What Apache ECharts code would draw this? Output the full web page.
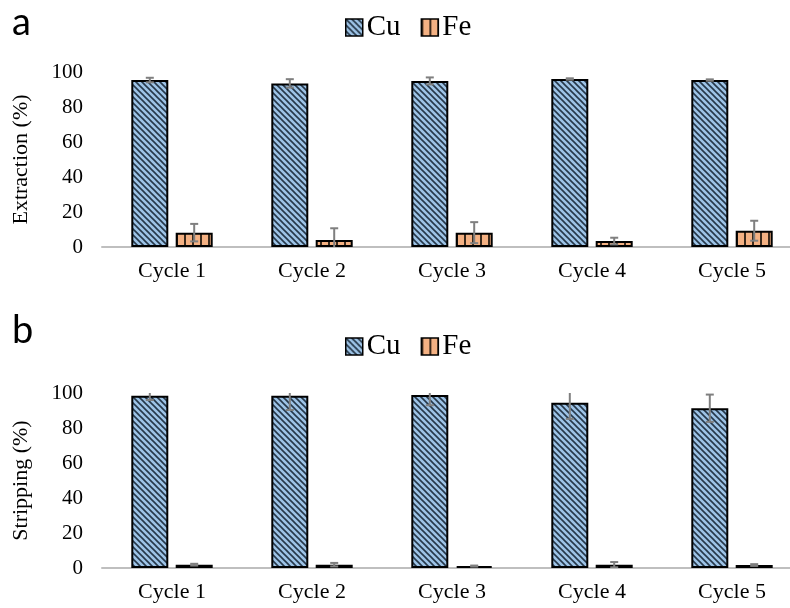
<!DOCTYPE html>
<html>
<head>
<meta charset="utf-8">
<script src="https://cdn.jsdelivr.net/npm/echarts@6/dist/echarts.min.js"></script>
<style>
  html, body { margin: 0; padding: 0; background: #fff; overflow: hidden; }
  #chart { width: 804px; height: 608px; }
</style>
</head>
<body>
<div id="chart"></div>
<script>
// Categories and tick labels
const cycles = ['Cycle 1', 'Cycle 2', 'Cycle 3', 'Cycle 4', 'Cycle 5'];
const yTicks = [0, 20, 40, 60, 80, 100];

// Panel a: extraction (%)
const extractionCu = [95.4, 93.5, 94.9, 96.0, 95.4];
const extractionCuErr = [1.3, 2.4, 2.0, 0.4, 0.4];
const extractionFe = [8.2, 4.0, 8.2, 3.4, 9.3];
const extractionFeErr = [5.0, 6.7, 6.0, 1.9, 5.7];

// Panel b: stripping (%)
const strippingCu = [98.5, 98.5, 98.9, 94.5, 91.3];
const strippingCuErr = [2.5, 8.2, 5.9, 9.3, 7.8];
const strippingFe = [1.9, 1.9, 1.1, 1.9, 1.7];
const strippingFeErr = [0.5, 1.0, 0.3, 1.5, 0.5];

// Hatch fills
function diagonalHatch() {
  const c = document.createElement('canvas');
  c.width = 6; c.height = 6;
  const g = c.getContext('2d');
  g.fillStyle = '#9dc3e6';
  g.fillRect(0, 0, 6, 6);
  g.strokeStyle = '#26384a';
  g.lineWidth = 1.6;
  g.beginPath();
  g.moveTo(-1, -1); g.lineTo(7, 7);
  g.moveTo(-1, 5); g.lineTo(1, 7);
  g.moveTo(5, -1); g.lineTo(7, 1);
  g.stroke();
  return c;
}
function verticalHatch() {
  const c = document.createElement('canvas');
  c.width = 8; c.height = 8;
  const g = c.getContext('2d');
  g.fillStyle = '#f4b183';
  g.fillRect(0, 0, 8, 8);
  g.fillStyle = '#3b2a1c';
  g.fillRect(0, 0, 2, 8);
  return c;
}
const cuFill = { image: diagonalHatch(), repeat: 'repeat' };
const feFill = { image: verticalHatch(), repeat: 'repeat' };

const SERIF = '"Liberation Serif", "Times New Roman", serif';
const BAR_W = 37;
const BAR_GAP = 0.2;

function errorSeries(name, gridIdx, values, errs, side) {
  return {
    type: 'custom',
    name: name,
    xAxisIndex: gridIdx,
    yAxisIndex: gridIdx,
    clip: true,
    z: 10,
    silent: true,
    encode: { x: 0, y: 1 },
    data: values.map((v, i) => [i, v, errs[i]]),
    renderItem: function (params, api) {
      const i = api.value(0), v = api.value(1), e = api.value(2);
      const shift = side * BAR_W * (1 + BAR_GAP) / 2;
      const x = api.coord([i, v])[0] + shift;
      const yTop = api.coord([i, v + e])[1];
      const yBot = api.coord([i, v - e])[1];
      const cap = 4;
      const st = { stroke: '#7f7f7f', lineWidth: 2 };
      return {
        type: 'group',
        children: [
          { type: 'line', shape: { x1: x, y1: yTop, x2: x, y2: yBot }, style: st },
          { type: 'line', shape: { x1: x - cap, y1: yTop, x2: x + cap, y2: yTop }, style: st },
          { type: 'line', shape: { x1: x - cap, y1: yBot, x2: x + cap, y2: yBot }, style: st }
        ]
      };
    }
  };
}

function barSeries(name, gridIdx, values, fill) {
  return {
    type: 'bar',
    name: name,
    xAxisIndex: gridIdx,
    yAxisIndex: gridIdx,
    barWidth: BAR_W,
    barGap: (BAR_GAP * 100) + '%',
    data: values,
    itemStyle: { color: fill, borderColor: '#000', borderWidth: 2 }
  };
}

function xAxis(gridIdx) {
  return {
    type: 'category',
    gridIndex: gridIdx,
    data: cycles,
    axisLine: { lineStyle: { color: '#bfbfbf', width: 2 } },
    axisTick: { show: false },
    axisLabel: { fontFamily: SERIF, fontSize: 22, color: '#000', margin: 13 }
  };
}

function yAxis(gridIdx, title) {
  return {
    type: 'value',
    gridIndex: gridIdx,
    min: yTicks[0],
    max: yTicks[yTicks.length - 1],
    interval: yTicks[1] - yTicks[0],
    name: title,
    nameLocation: 'middle',
    nameGap: 70,
    nameTextStyle: { fontFamily: SERIF, fontSize: 22, color: '#000' },
    axisLine: { show: false },
    axisTick: { show: false },
    splitLine: { show: false },
    axisLabel: { fontFamily: SERIF, fontSize: 21, color: '#000', margin: 19 }
  };
}

function legend(top) {
  return {
    data: ['Cu', 'Fe'],
    left: 340,
    top: top,
    itemWidth: 17,
    itemHeight: 17,
    itemGap: 20,
    icon: 'rect',
    itemStyle: { borderColor: '#000', borderWidth: 1.5 },
    textStyle: { fontFamily: SERIF, fontSize: 29, color: '#000', padding: [0, 0, 0, -1] }
  };
}

const chart = echarts.init(document.getElementById('chart'), null, { renderer: 'canvas' });
chart.setOption({
  animation: false,
  backgroundColor: '#fff',
  legend: [legend(8), legend(327)],
  graphic: [
    { type: 'text', left: 12, top: 4, style: { text: 'a', font: '38px Lato, "Open Sans", sans-serif', fill: '#000' } },
    { type: 'text', left: 12, top: 312, style: { text: 'b', font: '38px Lato, "Open Sans", sans-serif', fill: '#000' } }
  ],
  grid: [
    { left: 102, top: 72, width: 700, height: 175 },
    { left: 102, top: 393, width: 700, height: 175 }
  ],
  xAxis: [xAxis(0), xAxis(1)],
  yAxis: [yAxis(0, 'Extraction (%)'), yAxis(1, 'Stripping (%)')],
  series: [
    barSeries('Cu', 0, extractionCu, cuFill),
    barSeries('Fe', 0, extractionFe, feFill),
    errorSeries('Cu', 0, extractionCu, extractionCuErr, -1),
    errorSeries('Fe', 0, extractionFe, extractionFeErr, 1),
    barSeries('Cu', 1, strippingCu, cuFill),
    barSeries('Fe', 1, strippingFe, feFill),
    errorSeries('Cu', 1, strippingCu, strippingCuErr, -1),
    errorSeries('Fe', 1, strippingFe, strippingFeErr, 1)
  ]
});
</script>
</body>
</html>
